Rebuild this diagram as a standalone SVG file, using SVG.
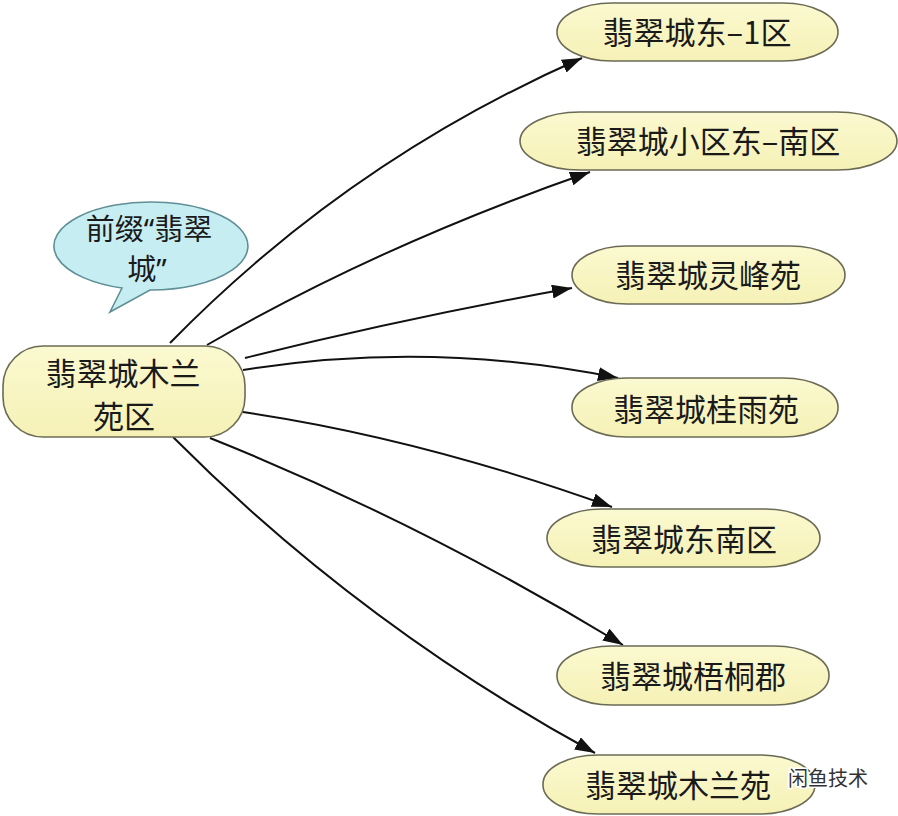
<svg xmlns="http://www.w3.org/2000/svg" width="898" height="816" viewBox="0 0 898 816">
<style>
.node{fill:url(#yg);stroke:#6b6b55;stroke-width:1.6}
.t{font-family:"Noto Sans CJK SC","Noto Sans",sans-serif;font-size:31px;fill:#1a1a1a;text-anchor:middle}
.c{font-family:"Noto Sans CJK SC","Noto Sans",sans-serif;font-size:29px;fill:#1a1a1a;text-anchor:middle}
.q{font-family:"Noto Sans",sans-serif}
.bub{fill:#c6eef2;stroke:#5f8f95;stroke-width:1.6}
.edge{fill:none;stroke:#111;stroke-width:2;marker-end:url(#ah)}
.wm{font-family:"Noto Sans CJK SC",sans-serif;font-size:20px;fill:#333;stroke:#fff;stroke-width:3;paint-order:stroke}
</style>
<defs>
<linearGradient id="yg" x1="0" y1="0" x2="0" y2="1">
<stop offset="0" stop-color="#fbf9d0"/>
<stop offset="1" stop-color="#f5f1b6"/>
</linearGradient>
<marker id="ah" markerUnits="userSpaceOnUse" markerWidth="22" markerHeight="16" refX="20" refY="7" orient="auto">
<path d="M0,0 L20,7 L0,14 Z" fill="#111"/>
</marker>
</defs>
<rect width="898" height="816" fill="#fff"/>
<g id="connectors">
<path class="edge" d="M170,343 Q348,161 582,58"/>
<path class="edge" d="M207,345 Q380,245 590,172"/>
<path class="edge" d="M245,358 Q405,318 572,288"/>
<path class="edge" d="M243,370 Q430,340 618,378"/>
<path class="edge" d="M243,412 Q420,438 612,507"/>
<path class="edge" d="M210,438 Q420,522 623,645"/>
<path class="edge" d="M173,437 Q360,625 595,753"/>
</g>
<g id="callout">
<path class="bub" d="M150,290 A97,44 0 1 0 122,288 L110,312 Z"/>
<text class="c" x="149" y="240">前缀<tspan class="q">“</tspan>翡翠</text>
<text class="c" x="147" y="280">城<tspan class="q">”</tspan></text>
</g>
<g id="src">
<rect class="node" x="3" y="346" width="242" height="91" rx="40" ry="40"/>
<text class="t" x="123" y="385">翡翠城木兰</text>
<text class="t" x="124" y="428">苑区</text>
</g>
<g id="n1">
<rect class="node" x="557" y="3" width="281" height="58" rx="55" ry="29"/>
<text class="t" x="697" y="44">翡翠城东–1区</text>
</g>
<g id="n2">
<rect class="node" x="520" y="112" width="377" height="58" rx="60" ry="29"/>
<text class="t" x="708" y="153">翡翠城小区东–南区</text>
</g>
<g id="n3">
<rect class="node" x="572" y="246" width="273" height="58" rx="55" ry="29"/>
<text class="t" x="708" y="287">翡翠城灵峰苑</text>
</g>
<g id="n4">
<rect class="node" x="572" y="378" width="266" height="59" rx="55" ry="29"/>
<text class="t" x="706" y="421">翡翠城桂雨苑</text>
</g>
<g id="n5">
<rect class="node" x="547" y="509" width="273" height="58" rx="55" ry="29"/>
<text class="t" x="684" y="551">翡翠城东南区</text>
</g>
<g id="n6">
<rect class="node" x="557" y="646" width="272" height="59" rx="55" ry="29"/>
<text class="t" x="693" y="688">翡翠城梧桐郡</text>
</g>
<g id="n7">
<rect class="node" x="543" y="755" width="272" height="59" rx="55" ry="29"/>
<text class="t" x="678" y="797">翡翠城木兰苑</text>
</g>
<text class="wm" x="788" y="786">闲鱼技术</text>
</svg>
